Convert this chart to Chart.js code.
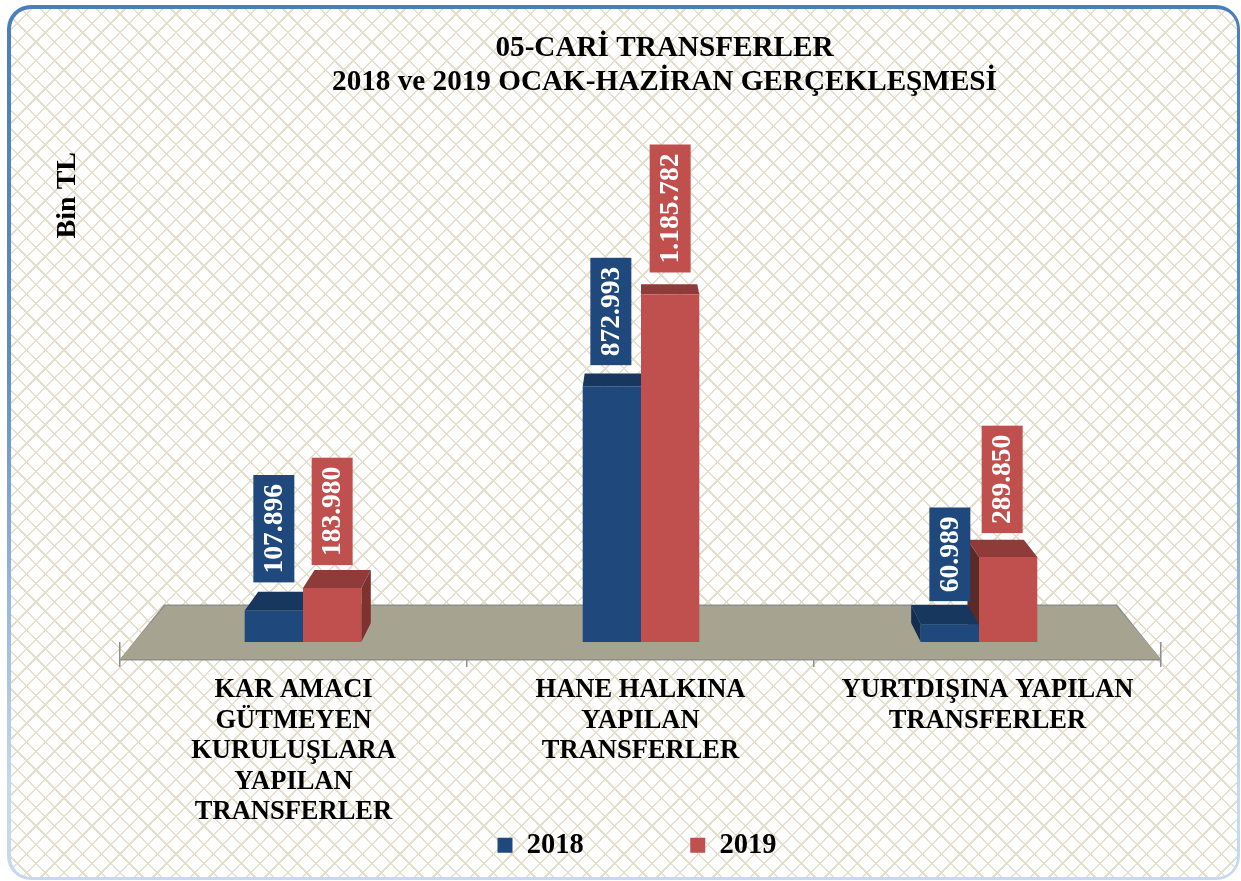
<!DOCTYPE html>
<html lang="tr">

<head>
    <meta charset="UTF-8" />
    <title>05-Cari Transferler</title>
    <script src="https://cdn.jsdelivr.net/npm/chart.js"></script>
    <style>
        html, body { margin: 0; padding: 0; background: #fff; }
        #cerceve {
            position: absolute; left: 7px; top: 5px; width: 1233px; height: 875px;
            border-radius: 24px; background: linear-gradient(#4a7ebb 0%, #5d8cc4 40%, #c6d9f0 90%);
        }
        #desen {
            position: absolute; left: 4px; top: 4px; right: 3px; bottom: 3px; border-radius: 20px;
            background-color: #fff;
            background-image:
                repeating-linear-gradient(45deg, #e4e0cd 0 1.7px, transparent 1.7px 13.2px),
                repeating-linear-gradient(-45deg, #e4e0cd 0 1.7px, transparent 1.7px 13.2px);
        }
        canvas { position: absolute; left: 0; top: 0; }
    </style>
</head>

<body>
    <div id="cerceve"><div id="desen"></div></div>
    <canvas id="grafik" width="1241" height="881"></canvas>

    <script>
        const kategoriler = [
            ['KAR AMACI', 'GÜTMEYEN', 'KURULUŞLARA', 'YAPILAN', 'TRANSFERLER'],
            ['HANE HALKINA', 'YAPILAN', 'TRANSFERLER'],
            ['YURTDIŞINA YAPILAN', 'TRANSFERLER']
        ];
        const degerler2018 = [107896, 872993, 60989];
        const degerler2019 = [183980, 1185782, 289850];
        const basliklar = ['05-CARİ TRANSFERLER', '2018 ve 2019 OCAK-HAZİRAN GERÇEKLEŞMESİ'];

        const MAVI = '#1f497d';
        const KIRMIZI = '#c0504d';
        const YAZI = '"Liberation Serif", serif';

        // etiket kutularinin sutun ustunden yuksekligi ve yatay kaymasi
        const etiketBosluk = [[28, 21, 23], [23, 22, 24]];
        const etiketKayma = [[0, -1, 0], [0, 0, -6]];

        function sayiYaz(n) {
            return String(n).replace(/\B(?=(\d{3})+$)/g, '.');
        }

        function cokgen(ctx, renk, noktalar) {
            ctx.fillStyle = renk;
            ctx.beginPath();
            noktalar.forEach((p, i) => i ? ctx.lineTo(p[0], p[1]) : ctx.moveTo(p[0], p[1]));
            ctx.closePath();
            ctx.fill();
        }

        const ucBoyut = {
            id: 'ucBoyut',
            afterLayout(chart) {
                // sutunlar zeminin on kenarindan biraz iceride duruyor
                const s = chart.scales.xBars;
                s.left = chart.scales.x.left + 14;
                s.right = chart.scales.x.right - 13;
                s.width = s.right - s.left;
                s.configure();

                chart.titleBlock.left += 58.5;
                chart.titleBlock.right += 58.5;

                const l = chart.legend;
                l.left += 31;
                l.right += 31;
                l.top = 831 - l.options.labels.padding;
            },
            beforeDatasetsDraw(chart) {
                const ctx = chart.ctx;
                const x = chart.scales.x;
                const taban = chart.scales.y.getPixelForValue(0);
                const orta = (x.left + x.right) / 2;

                // zemin
                const onY = taban + 17, arkaY = taban - 36;
                const arkaSol = orta + (x.left - orta) * 0.9135;
                const arkaSag = orta + (x.right - orta) * 0.9135;
                cokgen(ctx, '#8d8f8d', [[x.left - 1, onY + 1.5], [x.right + 1, onY + 1.5], [arkaSag + 1, arkaY - 1.5], [arkaSol - 1, arkaY - 1.5]]);
                cokgen(ctx, '#a6a391', [[x.left, onY], [x.right, onY], [arkaSag, arkaY], [arkaSol, arkaY]]);

                // ust ve yan yuzler, once 2019 sonra 2018
                const k = 0.966;
                const renkler = [
                    { ust: '#17375e', yan: '#122d4e', sag: '#122d4e' },
                    { ust: '#8e3b39', yan: '#5a2a26', sag: '#7d3230' }
                ];
                [1, 0].forEach(d => {
                    chart.getDatasetMeta(d).data.forEach(bar => {
                        const sol = bar.x - bar.width / 2, sag = bar.x + bar.width / 2;
                        const gSol = orta + (sol - orta) * k, gSag = orta + (sag - orta) * k;
                        // goz hizasina yaklastikca ust yuz daralir
                        const derinlik = 19.5 - (bar.base - bar.y) * 0.027;
                        if (bar.x < orta - 50) {
                            cokgen(ctx, renkler[d].sag, [[sag, bar.y], [sag, bar.base], [gSag, bar.base - 19], [gSag, bar.y - derinlik]]);
                        } else if (bar.x > orta + 100) {
                            cokgen(ctx, renkler[d].yan, [[sol, bar.y], [sol, bar.base], [gSol, bar.base - 19], [gSol, bar.y - derinlik]]);
                        }
                        cokgen(ctx, renkler[d].ust, [[sol, bar.y], [sag, bar.y], [gSag, bar.y - derinlik], [gSol, bar.y - derinlik]]);
                    });
                });
            },
            afterDatasetsDraw(chart) {
                const ctx = chart.ctx;
                chart.data.datasets.forEach((ds, d) => {
                    chart.getDatasetMeta(d).data.forEach((bar, i) => {
                        const metin = sayiYaz(ds.data[i]);
                        ctx.save();
                        ctx.font = 'bold 27.5px ' + YAZI;
                        const uzunluk = ctx.measureText(metin).width + 18;
                        const alt = bar.y - etiketBosluk[d][i];
                        const cx = bar.x + etiketKayma[d][i];
                        ctx.fillStyle = ds.backgroundColor;
                        ctx.fillRect(cx - 20.5, alt - uzunluk, 41, uzunluk);
                        ctx.translate(cx, alt - uzunluk / 2);
                        ctx.rotate(-Math.PI / 2);
                        ctx.fillStyle = '#fff';
                        ctx.textAlign = 'center';
                        ctx.textBaseline = 'middle';
                        ctx.fillText(metin, 0, 1);
                        ctx.restore();
                    });
                });
            }
        };

        new Chart(document.getElementById('grafik'), {
            type: 'bar',
            data: {
                labels: kategoriler,
                datasets: [
                    { label: '2018', data: degerler2018, backgroundColor: MAVI, xAxisID: 'xBars' },
                    { label: '2019', data: degerler2019, backgroundColor: KIRMIZI, xAxisID: 'xBars' }
                ]
            },
            options: {
                responsive: false,
                animation: false,
                layout: { padding: { left: 51, right: 80, top: 0, bottom: 5.5 } },
                datasets: { bar: { barPercentage: 1, categoryPercentage: 0.345 } },
                plugins: {
                    tooltip: { enabled: false },
                    title: {
                        display: true,
                        text: basliklar,
                        color: '#000',
                        font: { family: YAZI, size: 29.2, weight: 'bold', lineHeight: 34 / 29.2 },
                        padding: { top: 31, bottom: 53 }
                    },
                    legend: {
                        position: 'bottom',
                        maxHeight: 40,
                        labels: {
                            boxWidth: 15,
                            boxHeight: 15,
                            padding: 106.5,
                            color: '#000',
                            font: { family: YAZI, size: 28.5, weight: 'bold' }
                        }
                    }
                },
                scales: {
                    x: {
                        type: 'category',
                        labels: kategoriler,
                        offset: true,
                        border: { display: false },
                        grid: { drawOnChartArea: false, drawTicks: true, tickLength: 25, color: '#8d8f8d', lineWidth: 1.5, offset: true },
                        ticks: {
                            autoSkip: false,
                            maxRotation: 0,
                            minRotation: 0,
                            padding: 8,
                            color: '#000',
                            font: { family: YAZI, size: 26.5, weight: 'bold', lineHeight: 30.5 / 26.5 }
                        }
                    },
                    xBars: {
                        type: 'category',
                        labels: kategoriler,
                        position: 'bottom',
                        display: false,
                        offset: true
                    },
                    y: {
                        min: 0,
                        max: 1672000,
                        border: { display: false },
                        grid: { display: false },
                        ticks: { display: false },
                        title: {
                            display: true,
                            text: 'Bin TL',
                            align: 'end',
                            color: '#000',
                            font: { family: YAZI, size: 28, weight: 'bold' },
                            padding: { top: 0, bottom: 27.4 }
                        }
                    }
                }
            },
            plugins: [ucBoyut]
        });
    </script>
</body>

</html>
